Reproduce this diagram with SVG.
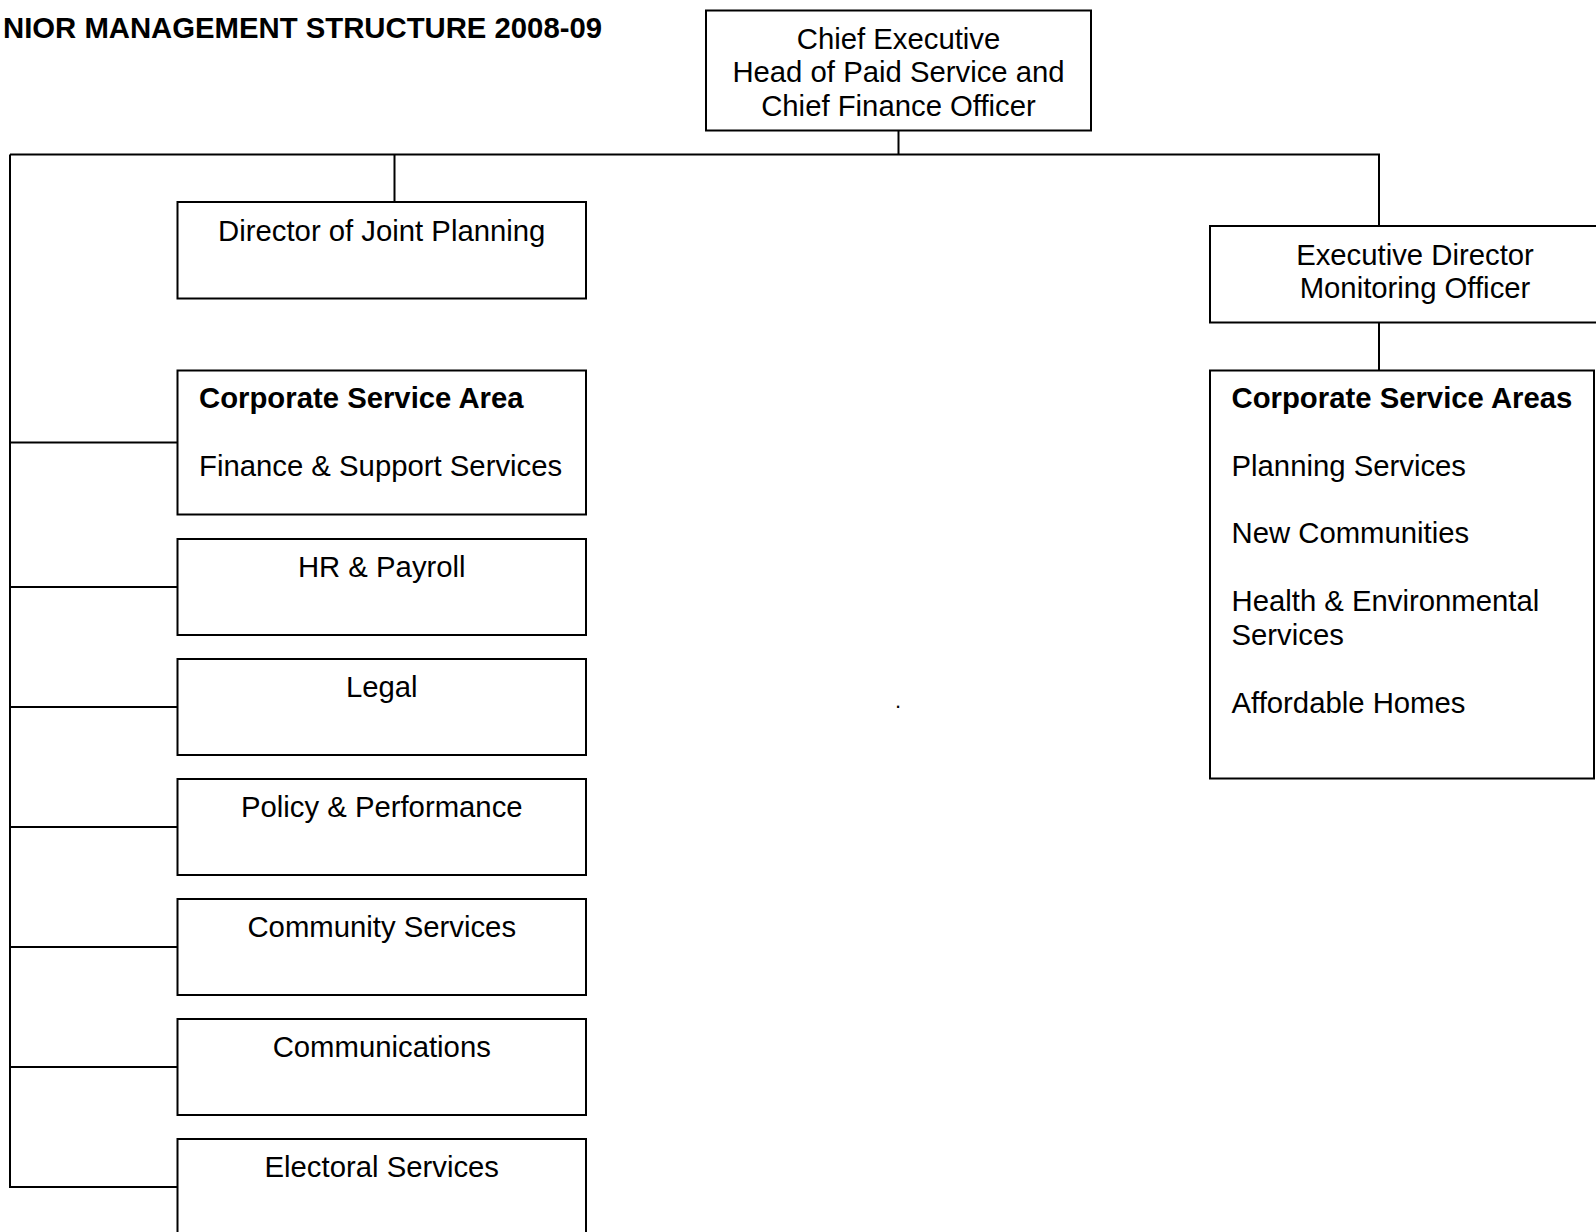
<svg xmlns="http://www.w3.org/2000/svg" width="1596" height="1232" viewBox="0 0 1596 1232">
<style>
  .box { fill: #ffffff; stroke: #000000; stroke-width: 2; }
  .ln { fill: none; stroke: #000000; stroke-width: 2; }
  text { font-family: "Liberation Sans", Arial, sans-serif; font-size: 29.3px; fill: #000000; }
  .c { text-anchor: middle; }
  .b { font-weight: bold; }
</style>
<rect x="0" y="0" width="1596" height="1232" fill="#ffffff"/>
<text class="b" x="3" y="38">NIOR MANAGEMENT STRUCTURE 2008-09</text>
<g id="connectors">
  <path class="ln" d="M898.5,130.5 V154.5"/>
  <path class="ln" d="M10,154.5 H1379 V226"/>
  <path class="ln" d="M394.5,154.5 V202"/>
  <path class="ln" d="M1379,322.5 V370.5"/>
  <path class="ln" d="M10,154.5 V1187 H177.5"/>
  <path class="ln" d="M10,442.5 H177.5"/>
  <path class="ln" d="M10,587 H177.5"/>
  <path class="ln" d="M10,707 H177.5"/>
  <path class="ln" d="M10,827 H177.5"/>
  <path class="ln" d="M10,947 H177.5"/>
  <path class="ln" d="M10,1067 H177.5"/>
</g>
<g id="chief">
  <rect class="box" x="706" y="10.5" width="385" height="120"/>
  <text class="c" x="898.5" y="48.5">Chief Executive</text>
  <text class="c" x="898.5" y="82">Head of Paid Service and</text>
  <text class="c" x="898.5" y="115.5">Chief Finance Officer</text>
</g>
<g id="director-joint-planning">
  <rect class="box" x="177.5" y="202" width="408.5" height="96.5"/>
  <text class="c" x="381.75" y="240.5">Director of Joint Planning</text>
</g>
<g id="executive-director">
  <rect class="box" x="1210" y="226" width="410" height="96.5"/>
  <text class="c" x="1415" y="264.5">Executive Director</text>
  <text class="c" x="1415" y="298">Monitoring Officer</text>
</g>
<g id="corporate-service-areas">
  <rect class="box" x="1210" y="370.5" width="384" height="408"/>
  <text class="b" x="1231.5" y="407.5">Corporate Service Areas</text>
  <text x="1231.5" y="475.5">Planning Services</text>
  <text x="1231.5" y="543">New Communities</text>
  <text x="1231.5" y="610.5">Health &amp; Environmental</text>
  <text x="1231.5" y="644.5">Services</text>
  <text x="1231.5" y="712.5">Affordable Homes</text>
</g>
<g id="corporate-service-area">
  <rect class="box" x="177.5" y="370.5" width="408.5" height="144"/>
  <text class="b" x="199" y="407.5">Corporate Service Area</text>
  <text x="199" y="475.5">Finance &amp; Support Services</text>
</g>
<g id="hr-payroll">
  <rect class="box" x="177.5" y="539" width="408.5" height="96"/>
  <text class="c" x="381.75" y="576.7">HR &amp; Payroll</text>
</g>
<g id="legal">
  <rect class="box" x="177.5" y="659" width="408.5" height="96"/>
  <text class="c" x="381.75" y="696.7">Legal</text>
</g>
<g id="policy-performance">
  <rect class="box" x="177.5" y="779" width="408.5" height="96"/>
  <text class="c" x="381.75" y="816.7">Policy &amp; Performance</text>
</g>
<g id="community-services">
  <rect class="box" x="177.5" y="899" width="408.5" height="96"/>
  <text class="c" x="381.75" y="936.7">Community Services</text>
</g>
<g id="communications">
  <rect class="box" x="177.5" y="1019" width="408.5" height="96"/>
  <text class="c" x="381.75" y="1056.7">Communications</text>
</g>
<g id="electoral-services">
  <rect class="box" x="177.5" y="1139" width="408.5" height="120"/>
  <text class="c" x="381.75" y="1177.3">Electoral Services</text>
</g>
<text x="895" y="708" style="font-size:22px">.</text>
</svg>
